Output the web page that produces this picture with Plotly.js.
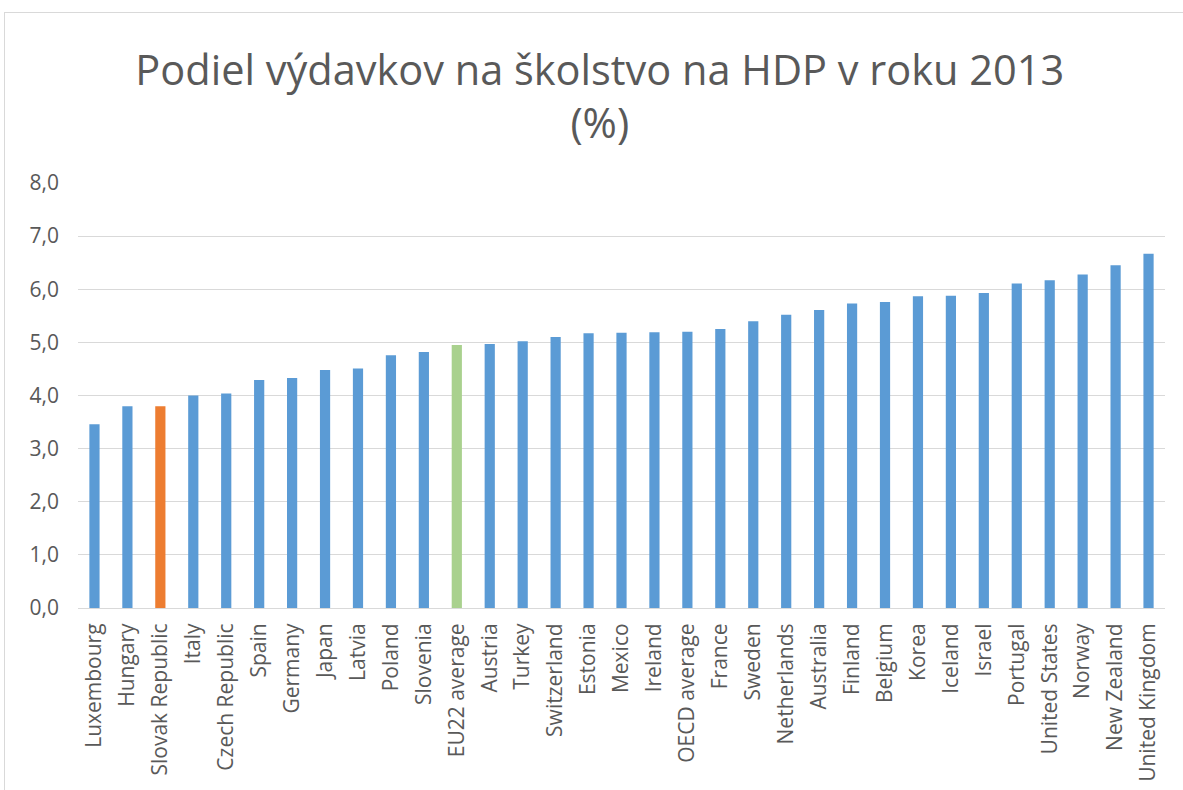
<!DOCTYPE html>
<html>
<head>
<meta charset="utf-8">
<script src="https://cdn.plot.ly/plotly-3.0.1.min.js"></script>
<style>
html,body{margin:0;padding:0;background:#fff;overflow:hidden;}
#frame{position:absolute;left:4px;top:12px;width:1200px;height:800px;border:1px solid #d9d9d9;box-sizing:border-box;}
#chart{position:absolute;left:0;top:0;width:1183px;height:790px;}
</style>
</head>
<body>
<div id="frame"></div>
<div id="chart"></div>
<script>
const countries = ["Luxembourg","Hungary","Slovak Republic","Italy","Czech Republic","Spain","Germany","Japan","Latvia","Poland","Slovenia","EU22 average","Austria","Turkey","Switzerland","Estonia","Mexico","Ireland","OECD average","France","Sweden","Netherlands","Australia","Finland","Belgium","Korea","Iceland","Israel","Portugal","United States","Norway","New Zealand","United Kingdom"];
const values = [3.46,3.80,3.80,4.00,4.04,4.29,4.33,4.48,4.51,4.76,4.82,4.95,4.97,5.02,5.10,5.17,5.18,5.19,5.20,5.25,5.40,5.52,5.61,5.73,5.76,5.87,5.88,5.93,6.11,6.17,6.28,6.45,6.67];
const yTicks = [0,1,2,3,4,5,6,7,8];
const titleText = "Podiel výdavkov na školstvo na HDP v roku 2013<br>(%)";

const colors = countries.map(c => c === "Slovak Republic" ? "#ed7d31" : (c === "EU22 average" ? "#a9d18e" : "#5b9bd5"));

Plotly.newPlot("chart", [{
  type: "bar",
  x: countries,
  y: values,
  marker: {color: colors},
  hoverinfo: "x+y"
}], {
  width: 1183, height: 790,
  paper_bgcolor: "rgba(0,0,0,0)",
  plot_bgcolor: "rgba(0,0,0,0)",
  margin: {l: 78, r: 18, t: 183, b: 182},
  separators: ", ",
  bargap: 0.69,
  showlegend: false,
  font: {family: "Open Sans, sans-serif", color: "#595959"},
  title: {
    text: titleText,
    font: {family: "Open Sans, sans-serif", size: 41.5, color: "#595959"},
    x: 0.507, xanchor: "center",
    yref: "container",
    y: 0.893, yanchor: "middle"
  },
  xaxis: {
    tickangle: -90,
    tickfont: {size: 21, color: "#595959"},
    showline: true, linecolor: "#d9d9d9", linewidth: 1,
    ticks: "", ticklabelstandoff: 6
  },
  yaxis: {
    range: [0, 8],
    tickvals: yTicks,
    tickformat: ".1f",
    tickfont: {size: 21, color: "#595959"},
    showgrid: true, gridcolor: "#d9d9d9", gridwidth: 1,
    zeroline: false,
    ticks: "", ticklabelstandoff: 18
  }
}, {staticPlot: true});
</script>
</body>
</html>
